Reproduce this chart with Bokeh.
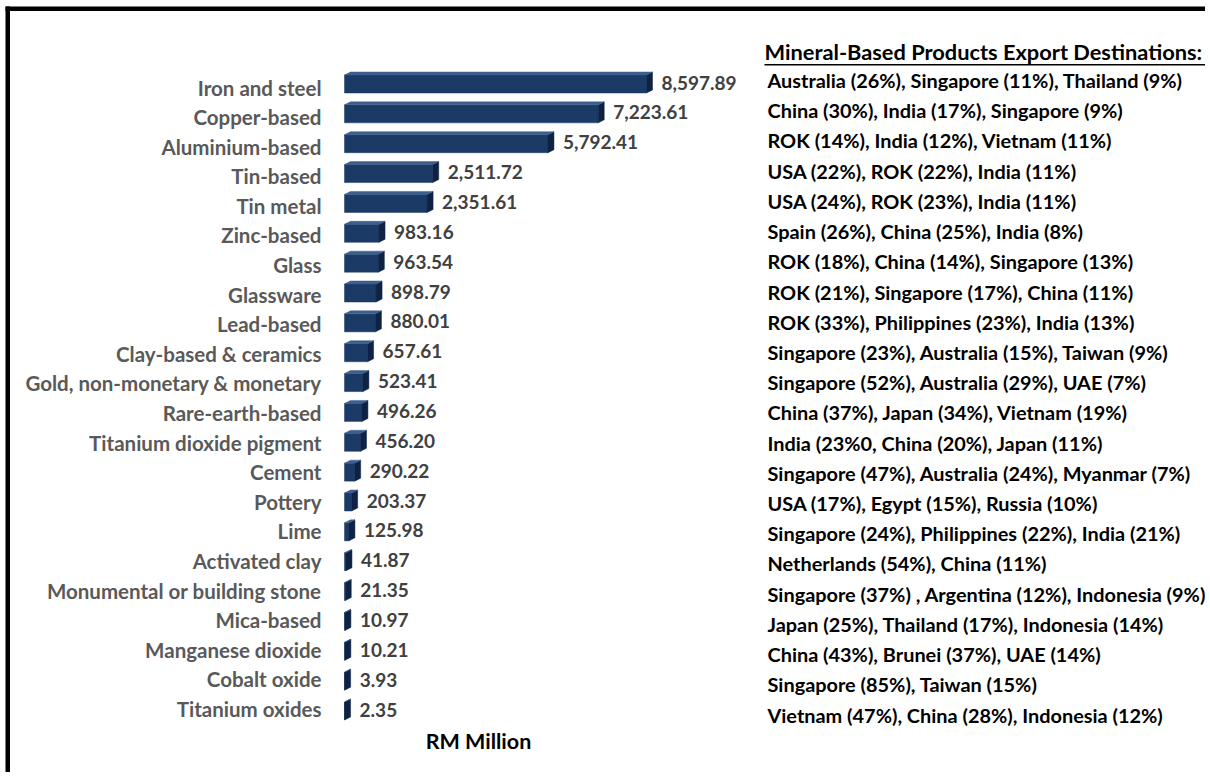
from bokeh.plotting import figure
from bokeh.models import Range1d, ColumnDataSource
from bokeh.core.properties import value
from bokeh.embed import file_html
from bokeh.resources import INLINE

categories = ["Iron and steel", "Copper-based", "Aluminium-based", "Tin-based", "Tin metal",
              "Zinc-based", "Glass", "Glassware", "Lead-based", "Clay-based & ceramics",
              "Gold, non-monetary & monetary", "Rare-earth-based", "Titanium dioxide pigment",
              "Cement", "Pottery", "Lime", "Activated clay", "Monumental or building stone",
              "Mica-based", "Manganese dioxide", "Cobalt oxide", "Titanium oxides"]
values = [8597.89, 7223.61, 5792.41, 2511.72, 2351.61, 983.16, 963.54, 898.79, 880.01, 657.61,
          523.41, 496.26, 456.20, 290.22, 203.37, 125.98, 41.87, 21.35, 10.97, 10.21, 3.93, 2.35]
destinations = ["Australia (26%), Singapore (11%), Thailand (9%)",
                "China (30%), India (17%), Singapore (9%)",
                "ROK (14%), India (12%), Vietnam (11%)",
                "USA (22%), ROK (22%), India (11%)",
                "USA (24%), ROK (23%), India (11%)",
                "Spain (26%), China (25%), India (8%)",
                "ROK (18%), China (14%), Singapore (13%)",
                "ROK (21%), Singapore (17%), China (11%)",
                "ROK (33%), Philippines (23%), India (13%)",
                "Singapore (23%), Australia (15%), Taiwan (9%)",
                "Singapore (52%), Australia (29%), UAE (7%)",
                "China (37%), Japan (34%), Vietnam (19%)",
                "India (23%0, China (20%), Japan (11%)",
                "Singapore (47%), Australia (24%), Myanmar (7%)",
                "USA (17%), Egypt (15%), Russia (10%)",
                "Singapore (24%), Philippines (22%), India (21%)",
                "Netherlands (54%), China (11%)",
                "Singapore (37%) , Argentina (12%), Indonesia (9%)",
                "Japan (25%), Thailand (17%), Indonesia (14%)",
                "China (43%), Brunei (37%), UAE (14%)",
                "Singapore (85%), Taiwan (15%)",
                "Vietnam (47%), China (28%), Indonesia (12%)"]
title_text = "Mineral-Based Products Export Destinations:"
unit_text = "RM Million"

# ---------------- layout constants (page pixels) ----------------
W, H = 1205, 772
OX, OY = 1, 1                  # where the canvas lands on the page
BAR_X0 = 345                   # page x of the value 0
PPU = 302.0 / 8597.89          # pixels per RM million
ROW0, ROW_PX = 83.0, (710.0 - 83.0) / 21
LAB_RIGHT, LAB_Y0, LAB_PITCH = 322, 88.0, (709.5 - 88.0) / 21
DEST_X, DEST_Y0, DEST_PITCH = 768, 80.5, (715.0 - 80.5) / 21
FONT = "Lato"


def ux(px):
    return (px - BAR_X0) / PPU


def uy(py):
    return (py - ROW0) / ROW_PX


N = len(categories)
rows = list(range(N))
DX = 6 / PPU
DY = 3 / ROW_PX
HH = 9 / ROW_PX

side_xs, side_ys, top_xs, top_ys = [], [], [], []
for r, v in zip(rows, values):
    t, b = r - HH + DY / 2, r + HH + DY / 2
    side_xs.append([v, v + DX, v + DX, v])
    side_ys.append([t, t - DY, b - DY, b])
    top_xs.append([0, DX, v + DX, v])
    top_ys.append([t, t - DY, t - DY, t])

src = ColumnDataSource(dict(row=rows, val=values, cat=categories, dest=destinations,
                            lbl=["{:,.2f}".format(v) for v in values],
                            top=[r - HH + DY / 2 for r in rows],
                            bot=[r + HH + DY / 2 for r in rows],
                            lab_y=[uy(LAB_Y0 + r * LAB_PITCH) for r in rows],
                            dest_y=[uy(DEST_Y0 + r * DEST_PITCH) for r in rows]))

p = figure(width=W, height=H,
           x_range=Range1d(ux(OX), ux(OX + W)),
           y_range=Range1d(uy(OY + H), uy(OY)),
           output_backend="svg", toolbar_location=None,
           x_axis_location=None, y_axis_location=None, min_border=0)
p.xgrid.visible = False
p.ygrid.visible = False
p.outline_line_color = None
p.background_fill_color = "white"
p.border_fill_color = "white"

# bars (3D style: front, side, top)
p.quad(left=0, right="val", top="top", bottom="bot", source=src,
       fill_color="#1B3A66", line_color="#1B3A66", line_width=0.5)
p.patches(side_xs, side_ys, fill_color="#0E2244", line_color="#0E2244", line_width=0.5)
p.patches(top_xs, top_ys, fill_color="#3C5F8E", line_color="#3C5F8E", line_width=0.5)

# value labels
p.text(x="val", y="row", text="lbl", source=src, x_offset=6 + 9,
       text_baseline="middle", text_align="left",
       text_font=value(FONT), text_font_style="bold", text_font_size="19px",
       text_color="#404040")

# category labels
p.text(x=0, y="lab_y", text="cat", source=src, x_offset=LAB_RIGHT - BAR_X0,
       text_baseline="middle", text_align="right",
       text_font=value(FONT), text_font_style="bold", text_font_size="20.5px",
       text_color="#595959")

# destinations
p.text(x=0, y="dest_y", text="dest", source=src, x_offset=DEST_X - BAR_X0,
       text_baseline="middle", text_align="left",
       text_font=value(FONT), text_font_style="bold", text_font_size="19.9px",
       text_color="black")

# title with underline
p.text(x=[0], y=[uy(52)], text=[title_text], x_offset=765 - BAR_X0,
       text_baseline="middle", text_align="left",
       text_font=value(FONT), text_font_style="bold", text_font_size="21.8px",
       text_color="black")
p.quad(left=[ux(765)], right=[ux(1206)], top=[uy(64.5)], bottom=[uy(66)],
       fill_color="black", line_color=None)

# unit label
p.text(x=[0], y=[N - 1], text=[unit_text], x_offset=479 - BAR_X0, y_offset=741 - 710,
       text_baseline="middle", text_align="center",
       text_font=value(FONT), text_font_style="bold", text_font_size="21.5px",
       text_color="black")

# frame border (top and left edges)
p.quad(left=[ux(6)], right=[ux(OX + W + 5)], top=[uy(7)], bottom=[uy(11.5)],
       fill_color="black", line_color=None)
p.quad(left=[ux(6)], right=[ux(10.5)], top=[uy(7)], bottom=[uy(OY + H + 5)],
       fill_color="black", line_color=None)

open("out.html", "w").write(file_html(p, INLINE))
